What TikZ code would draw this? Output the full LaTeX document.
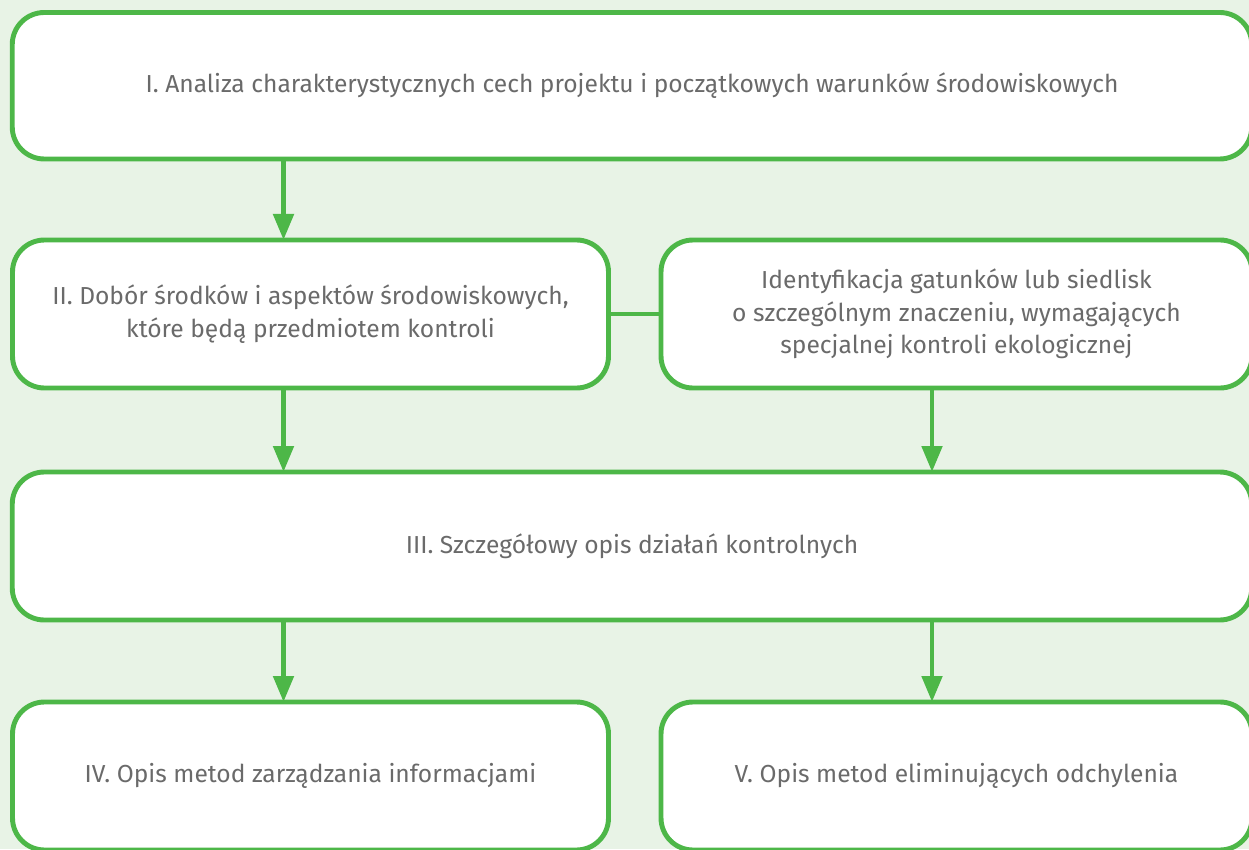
\documentclass[tikz,border=0pt]{standalone}
\usepackage{fontspec}
\setmainfont{Fira Sans}
\usetikzlibrary{arrows.meta}
\definecolor{bggreen}{HTML}{E8F3E6}
\definecolor{linegreen}{HTML}{4DB748}
\definecolor{textgray}{HTML}{6A6A6A}
\begin{document}
\begin{tikzpicture}[
    box/.style={draw=linegreen, line width=2.8pt, fill=white, rounded corners=0.64cm,
      inner sep=0pt, outer sep=0pt, align=center, text=textgray,
      font=\fontsize{14}{18.4}\selectfont},
    arr/.style={draw=linegreen, line width=2.8pt, -{Triangle[length=0.52cm, width=0.4cm]}},
    link/.style={draw=linegreen, line width=2.8pt}
  ]
  \fill[bggreen] (0,0) rectangle (24.98,-16.98);
  \useasboundingbox (0,0) rectangle (24.98,-16.98);

  \node[box, minimum width=24.79cm, minimum height=2.93cm] (b1) at (12.64,-1.715)
    {I. Analiza charakterystycznych cech projektu i początkowych warunków środowiskowych};

  \node[box, minimum width=11.92cm, minimum height=2.96cm] (b2) at (6.21,-6.28)
    {II. Dobór środków i aspektów środowiskowych,\\ które będą przedmiotem kontroli};
  \node[box, minimum width=11.82cm, minimum height=2.96cm] (b2id) at (19.13,-6.28)
    {Identyfikacja gatunków lub siedlisk\\ o szczególnym znaczeniu, wymagających\\ specjalnej kontroli ekologicznej};

  \node[box, minimum width=24.79cm, minimum height=2.96cm] (b3) at (12.64,-10.92)
    {III. Szczegółowy opis działań kontrolnych};

  \node[box, minimum width=11.92cm, minimum height=2.96cm] (b4) at (6.21,-15.52)
    {IV. Opis metod zarządzania informacjami};
  \node[box, minimum width=11.82cm, minimum height=2.96cm] (b5) at (19.13,-15.52)
    {V. Opis metod eliminujących odchylenia};

  \coordinate (cl) at (5.67,0);
  \coordinate (cr) at (18.64,0);

  \draw[arr] (b1.south -| cl) -- (b2.north -| cl);
  \draw[link] (b2.east) -- (b2id.west);
  \draw[arr] (b2.south -| cl) -- (b3.north -| cl);
  \draw[arr] (b2id.south -| cr) -- (b3.north -| cr);
  \draw[arr] (b3.south -| cl) -- (b4.north -| cl);
  \draw[arr] (b3.south -| cr) -- (b5.north -| cr);
\end{tikzpicture}
\end{document}
